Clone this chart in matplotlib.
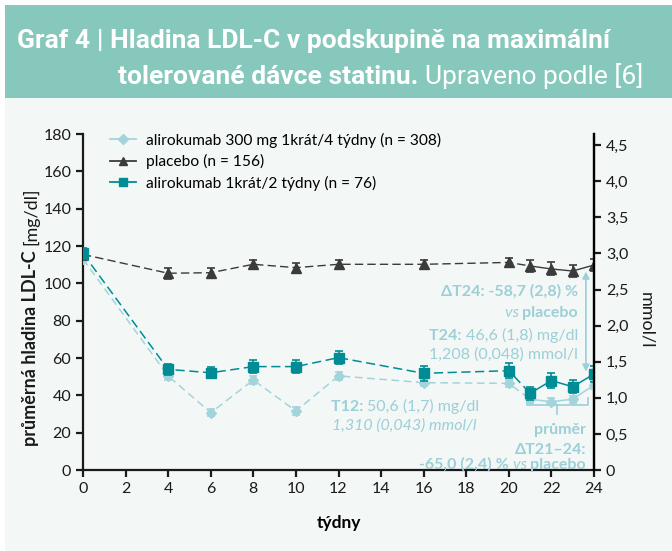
import numpy as np
import matplotlib.pyplot as plt
from matplotlib.patches import Rectangle

plt.rcParams['font.family'] = ['Lato', 'DejaVu Sans']

# data
weeks = [0, 4, 6, 8, 10, 12, 16, 20, 21, 22, 23, 24]
placebo = [115.5, 105.4, 105.7, 110.2, 108.4, 110.2, 110.2, 111.2, 109.3, 107.7, 106.6, 109.8]
placebo_err = [3, 3, 2.5, 2.5, 2.5, 2.5, 2.5, 2.5, 3, 3.5, 3, 3]
ali_2w = [116.0, 53.9, 52.1, 55.4, 55.4, 60.2, 51.8, 53.2, 41.1, 47.9, 44.6, 51.4]
ali_2w_err = [3, 3, 3, 3.5, 3.5, 3.5, 4, 4, 3.5, 4, 3.5, 4.5]
ali_4w = [113.0, 50.4, 30.7, 48.2, 31.6, 50.4, 46.8, 46.4, 37.9, 36.6, 37.9, 45.5]
ali_4w_err = [2, 2, 2, 2, 2, 2, 2, 2, 2, 2, 2, 2]

labels = ['alirokumab 300 mg 1krát/4 týdny (n = 308)',
          'placebo (n = 156)',
          'alirokumab 1krát/2 týdny (n = 76)']
mg_per_mmol = 38.67

W, H = 672, 551
BG = '#f3f7f6'
BAND = '#86c8bc'
LIGHT = '#a3d4db'
TEAL = '#008c95'
DARK = '#3b3b3b'
NOTE = '#9ccfd7'

fig = plt.figure(figsize=(W / 100, H / 100), dpi=100)
fig.patch.set_facecolor('white')
fig.patches.append(Rectangle((5 / W, 0), 1, 1 - 98 / H, transform=fig.transFigure,
                             facecolor=BG, edgecolor='none', zorder=-2))
fig.patches.append(Rectangle((5 / W, 1 - 98 / H), 1, 93 / H, transform=fig.transFigure,
                             facecolor=BAND, edgecolor='none', zorder=-2))

ax = fig.add_axes([83 / W, 1 - 470 / H, (594 - 83) / W, (470 - 134) / H])
ax.set_facecolor('none')


def split(x, y, i):
    return x[:i + 1], y[:i + 1], x[i:], y[i:]


def draw(y, err, color, marker, ms, lw, dash, z):
    ax.errorbar(weeks, y, yerr=err, fmt='none', ecolor=color, elinewidth=1.2,
                capsize=3, capthick=1.2, zorder=z)
    a, b, c, d = split(weeks, y, 8)
    ax.plot(a, b, color=color, lw=lw, dashes=dash, zorder=z)
    ax.plot(c, d, color=color, lw=lw, zorder=z)
    ax.plot(weeks, y, ls='none', marker=marker, ms=ms, color=color, zorder=z + 1)


draw(ali_4w, ali_4w_err, LIGHT, 'D', 5, 1.1, (5, 3), 3)
draw(placebo, placebo_err, DARK, '^', 7, 1.0, (6, 3), 4)
draw(ali_2w, ali_2w_err, TEAL, 's', 7, 1.1, (6, 3), 5)

# legend
handles = [ax.plot([], [], color=c, marker=m, ms=s, lw=1.3)[0]
           for c, m, s in [(LIGHT, 'D', 5), (DARK, '^', 6), (TEAL, 's', 6)]]
ax.legend(handles, labels, loc='upper left', bbox_to_anchor=(0.025, 1.045), frameon=False,
          fontsize=11.2, handlelength=1.7, labelspacing=0.4, handletextpad=0.6)

ax.set_xlim(0, 24)
ax.set_ylim(0, 180)
ax.set_xticks(range(0, 25, 2))
ax.set_yticks(range(0, 181, 20))
ax.spines['top'].set_visible(False)
for s in ['left', 'bottom', 'right']:
    ax.spines[s].set_linewidth(1.6)
    ax.spines[s].set_color('#1a1a1a')
ax.tick_params(length=5, width=1.6, labelsize=11.5, colors='#1a1a1a', direction='out')
ax.set_xlabel('týdny', fontsize=12.5, fontweight='bold', labelpad=14)

ax2 = ax.twinx()
ax2.set_ylim(0, 180 / mg_per_mmol)
ticks = np.arange(0, 4.6, 0.5)
ax2.set_yticks(ticks)
ax2.set_yticklabels(['0'] + [f'{t:.1f}'.replace('.', ',') for t in ticks[1:]])
for s in ['top', 'left', 'bottom']:
    ax2.spines[s].set_visible(False)
ax2.spines['right'].set_linewidth(1.6)
ax2.tick_params(length=5, width=1.6, labelsize=11.5, colors='#1a1a1a')

# double arrow and brace (drawn on the top axes so nothing hides them)
k = 1 / mg_per_mmol
ax2.annotate('', xy=(23.62, 52.7 * k), xytext=(23.62, 106.3 * k), annotation_clip=False,
             arrowprops=dict(arrowstyle='<|-|>', color=NOTE, lw=1.2, mutation_scale=10,
                             shrinkA=0, shrinkB=0), zorder=2)
bx0, bx1, bxm = 20.85, 23.72, 22.28
by0, by1, by2 = 38.5, 35.0, 30.0
ax.plot([bx0, bx0, bx1, bx1], [by0, by1, by1, by0], color=NOTE, lw=1.2, zorder=2)
ax.plot([bxm, bxm], [by1, by2], color=NOTE, lw=1.2, zorder=2)

fig.canvas.draw()
rend = fig.canvas.get_renderer()


def rich(x, y, parts, ha='left', size=11.5, color=NOTE):
    # parts: (text, weight, style); x, y in pixels from top-left, baseline
    objs = [fig.text(0, 0, t, fontsize=size, fontweight=w, style=s, color=color,
                     va='baseline') for t, w, s in parts]
    widths = [o.get_window_extent(rend).width for o in objs]
    x0 = x - sum(widths) if ha == 'right' else x
    for o, w in zip(objs, widths):
        o.set_position((x0 / W, 1 - y / H))
        x0 += w
    return objs


N, B, I = 'normal', 'bold', 'italic'
rich(578, 296, [('ΔT24: -58,7 (2,8) %', B, N)], ha='right')
rich(578, 317, [('vs ', N, I), ('placebo', B, N)], ha='right')
rich(578, 340, [('T24: ', B, N), ('46,6 (1,8) mg/dl', N, N)], ha='right')
rich(578, 359, [('1,208 (0,048) mmol/l', N, N)], ha='right')
rich(331, 411, [('T12: ', B, N), ('50,6 (1,7) mg/dl', N, N)])
rich(477, 430, [('1,310 (0,043) mmol/l', N, I)], ha='right')
rich(586, 434, [('průměr', B, N)], ha='right')
rich(586, 454, [('ΔT21–24:', B, N)], ha='right')
rich(586, 469, [('-65,0 (2,4) % ', B, N), ('vs ', N, I), ('placebo', B, N)], ha='right')

# y labels: bold part, then the unit above it with a small gap
yl = fig.text(31 / W, 1 - 446 / H, 'průměrná hladina LDL-C', rotation=90, ha='center',
              va='bottom', fontsize=13, fontweight='bold', color='#1a1a1a')
top = 446 - yl.get_window_extent(rend).height
fig.text(31 / W, 1 - (top - 5) / H, '[mg/dl]', rotation=90, ha='center', va='bottom',
         fontsize=13, color='#1a1a1a')
fig.text(646 / W, 1 - 320 / H, 'mmol/l', rotation=-90, ha='center', va='center',
         fontsize=13, color='#1a1a1a')

# header
hdr = dict(fontsize=19, color='white', family=['Roboto', 'DejaVu Sans'])
fig.text(17 / W, 1 - 48 / H, 'Graf 4 | Hladina LDL-C v podskupině na maximální',
         fontweight='bold', va='baseline', **hdr)
t1 = fig.text(118 / W, 1 - 84 / H, 'tolerované dávce statinu. ', fontweight='bold',
              va='baseline', **hdr)
w1 = t1.get_window_extent(rend).width
fig.text((118 + w1) / W, 1 - 84 / H, 'Upraveno podle [6]', va='baseline', **hdr)

fig.savefig('out.png', dpi=100, facecolor=fig.get_facecolor())
